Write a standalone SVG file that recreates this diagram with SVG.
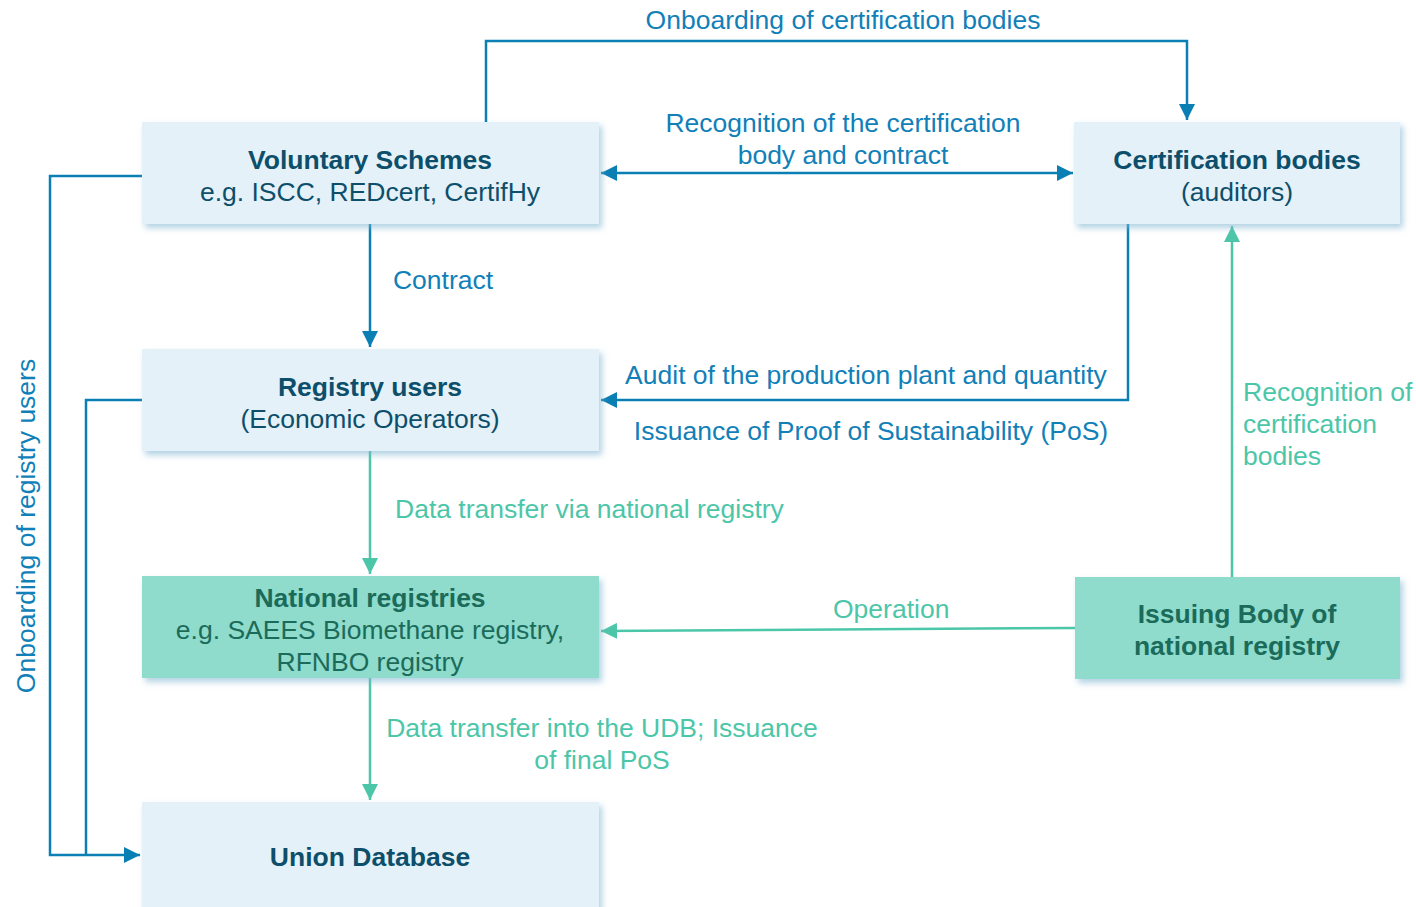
<svg xmlns="http://www.w3.org/2000/svg" width="1416" height="907" viewBox="0 0 1416 907">
<defs>
<filter id="sh" x="-5%" y="-10%" width="115%" height="130%">
<feGaussianBlur in="SourceAlpha" stdDeviation="3"/>
<feOffset dx="3" dy="4" result="b"/>
<feFlood flood-color="#7fb3d0" flood-opacity="0.6"/>
<feComposite in2="b" operator="in"/>
<feMerge><feMergeNode/><feMergeNode in="SourceGraphic"/></feMerge>
</filter>
<marker id="ab" viewBox="0 0 10 10" refX="10" refY="5" markerWidth="16" markerHeight="16" markerUnits="userSpaceOnUse" orient="auto-start-reverse"><path d="M0,0 L10,5 L0,10 z" fill="#0a7fb3"/></marker>
<marker id="at" viewBox="0 0 10 10" refX="10" refY="5" markerWidth="16" markerHeight="16" markerUnits="userSpaceOnUse" orient="auto-start-reverse"><path d="M0,0 L10,5 L0,10 z" fill="#4cc6a8"/></marker>
</defs>
<style>
.lb{fill:#e4f1f8}
.tl{fill:#8fdbcc}
text{font-family:"Liberation Sans",Arial,sans-serif;font-size:26.5px;text-anchor:middle}
.h{font-weight:bold;fill:#0d4f6b}
.r{fill:#0d4f6b}
.ht{font-weight:bold;fill:#1b6b5a}
.rt{fill:#1b6b5a}
.cb{fill:none;stroke:#0a7fb3;stroke-width:2.5}
.ct{fill:none;stroke:#4cc6a8;stroke-width:2.5}
.lbb{fill:#1180b8}
.lbt{fill:#4cc6a8;text-anchor:start}
</style>
<rect width="1416" height="907" fill="#ffffff"/>
<g id="connectors">
<path class="cb" d="M486,122 V41 H1187 V120" marker-end="url(#ab)"/>
<path class="cb" d="M601,173 H1073" marker-start="url(#ab)" marker-end="url(#ab)"/>
<path class="cb" d="M370,224 V347" marker-end="url(#ab)"/>
<path class="cb" d="M1128,224 V400 H601" marker-end="url(#ab)"/>
<path class="cb" d="M142,176 H50 V855 H140" marker-end="url(#ab)"/>
<path class="cb" d="M142,400 H86 V855"/>
<path class="ct" d="M370,451 V574" marker-end="url(#at)"/>
<path class="ct" d="M1075,628 L601,631" marker-end="url(#at)"/>
<path class="ct" d="M1232,577 V226" marker-end="url(#at)"/>
<path class="ct" d="M370,678 V800" marker-end="url(#at)"/>
<text class="lbb" x="843" y="29">Onboarding of certification bodies</text>
<text class="lbb" x="843" y="132">Recognition of the certification</text>
<text class="lbb" x="843" y="164">body and contract</text>
<text class="lbb" x="443" y="289">Contract</text>
<text class="lbb" x="866" y="384">Audit of the production plant and quantity</text>
<text class="lbb" x="871" y="440">Issuance of Proof of Sustainability (PoS)</text>
<text class="lbt" x="395" y="518">Data transfer via national registry</text>
<text class="lbt" x="833" y="618">Operation</text>
<text class="lbt" x="1243" y="401">Recognition of</text>
<text class="lbt" x="1243" y="433">certification</text>
<text class="lbt" x="1243" y="465">bodies</text>
<text class="lbt" x="602" y="737" style="text-anchor:middle">Data transfer into the UDB; Issuance</text>
<text class="lbt" x="602" y="769" style="text-anchor:middle">of final PoS</text>
<text class="lbb" transform="translate(35,526) rotate(-90)">Onboarding of registry users</text>
</g>
<g id="voluntary-schemes">
<rect class="lb" x="142" y="122" width="457" height="102" filter="url(#sh)"/>
<text class="h" x="370" y="169">Voluntary Schemes</text>
<text class="r" x="370" y="201">e.g. ISCC, REDcert, CertifHy</text>
</g>
<g id="certification-bodies">
<rect class="lb" x="1074" y="122" width="326" height="102" filter="url(#sh)"/>
<text class="h" x="1237" y="169">Certification bodies</text>
<text class="r" x="1237" y="201">(auditors)</text>
</g>
<g id="registry-users">
<rect class="lb" x="142" y="349" width="457" height="102" filter="url(#sh)"/>
<text class="h" x="370" y="396">Registry users</text>
<text class="r" x="370" y="428">(Economic Operators)</text>
</g>
<g id="national-registries">
<rect class="tl" x="142" y="576" width="457" height="102" filter="url(#sh)"/>
<text class="ht" x="370" y="607">National registries</text>
<text class="rt" x="370" y="639">e.g. SAEES Biomethane registry,</text>
<text class="rt" x="370" y="671">RFNBO registry</text>
</g>
<g id="issuing-body">
<rect class="tl" x="1075" y="577" width="325" height="102" filter="url(#sh)"/>
<text class="ht" x="1237" y="623">Issuing Body of</text>
<text class="ht" x="1237" y="655">national registry</text>
</g>
<g id="union-database">
<rect class="lb" x="142" y="802" width="457" height="110" filter="url(#sh)"/>
<text class="h" x="370" y="866">Union Database</text>
</g>
</svg>
